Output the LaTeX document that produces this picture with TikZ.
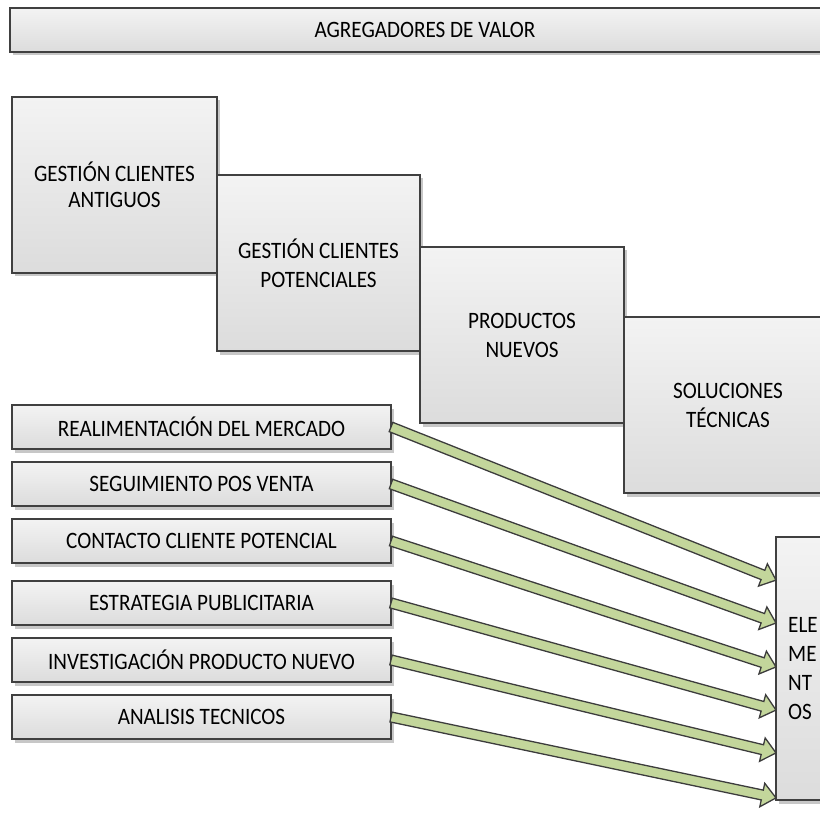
\documentclass[tikz,border=0pt]{standalone}
\usepackage{fontspec}
\setmainfont{Carlito}[FakeStretch=0.9]
\usetikzlibrary{calc,shadows}

\definecolor{boxline}{HTML}{404040}
\definecolor{boxtop}{HTML}{F3F3F3}
\definecolor{boxbot}{HTML}{DCDCDC}
\definecolor{arrowfill}{HTML}{C3D69B}
\definecolor{arrowline}{HTML}{3C3C3C}

% block arrow from #1 to #2: straight shaft, triangular head
\newcommand\feedarrow[2]{%
  \filldraw[flow] let \p1=(#1), \p2=(#2),
      \n1={atan2((\y2)-(\y1),(\x2)-(\x1))},
      \n2={veclen((\x2)-(\x1),(\y2)-(\y1))} in
    ($(\p1)+({\n1+90}:5pt)$)
    -- ($(\p1)+({\n1}:{\n2-14pt})+({\n1+90}:5pt)$)
    -- ($(\p1)+({\n1}:{\n2-14pt})+({\n1+90}:12pt)$)
    -- (\p2)
    -- ($(\p1)+({\n1}:{\n2-14pt})+({\n1-90}:12pt)$)
    -- ($(\p1)+({\n1}:{\n2-14pt})+({\n1-90}:5pt)$)
    -- ($(\p1)+({\n1-90}:5pt)$)
    -- cycle;}

\begin{document}
\begin{tikzpicture}[x=1pt,y=-1pt,
  panel/.style={rectangle, draw=boxline, line width=1.8pt,
    top color=boxtop, bottom color=boxbot,
    inner sep=2pt, outer sep=0pt, anchor=north west, align=center,
    font=\fontsize{23.5}{29}\selectfont,
    drop shadow={shadow xshift=3pt, shadow yshift=-3.5pt,
      opacity=0.22, fill=black}},
  bigpanel/.style={panel, minimum height=176pt},
  smallpanel/.style={panel, minimum width=379pt, minimum height=44pt},
  flow/.style={fill=arrowfill, draw=arrowline, line width=1.3pt,
    line join=miter},
]
\useasboundingbox (0,0) rectangle (820,813);
\clip (0,0) rectangle (820,813);

% heading bar
\node[panel, minimum width=830pt, minimum height=44pt] (head) at (10,8)
  {AGREGADORES DE VALOR};

% staircase of value blocks
\node[bigpanel, minimum width=205pt, font=\fontsize{23.5}{26}\selectfont]
  (b1) at (12,97) {GESTIÓN CLIENTES\\ANTIGUOS};
\node[bigpanel, minimum width=203pt] (b2) at (217,175)
  {GESTIÓN CLIENTES\\POTENCIALES};
\node[bigpanel, minimum width=204pt] (b3) at (420,247)
  {PRODUCTOS\\NUEVOS};
\node[bigpanel, minimum width=208pt] (b4) at (624,317)
  {SOLUCIONES\\TÉCNICAS};

% input activities
\node[smallpanel] (s1) at (12,405) {REALIMENTACIÓN DEL MERCADO};
\node[smallpanel] (s2) at (12,462) {SEGUIMIENTO POS VENTA};
\node[smallpanel] (s3) at (12,519) {CONTACTO CLIENTE POTENCIAL};
\node[smallpanel] (s4) at (12,581) {ESTRATEGIA PUBLICITARIA};
\node[smallpanel] (s5) at (12,638) {INVESTIGACIÓN PRODUCTO NUEVO};
\node[smallpanel] (s6) at (12,695) {ANALISIS TECNICOS};

% receiving block
\node[panel, minimum width=54pt, minimum height=263pt, align=left]
  (el) at (776,537) {ELE\\ME\\NT\\OS};

% arrow targets along the left side of the receiving block
\coordinate (t1) at ($(el.north west)!0.164!(el.south west)$);
\coordinate (t2) at ($(el.north west)!0.327!(el.south west)$);
\coordinate (t3) at ($(el.north west)!0.494!(el.south west)$);
\coordinate (t4) at ($(el.north west)!0.658!(el.south west)$);
\coordinate (t5) at ($(el.north west)!0.821!(el.south west)$);
\coordinate (t6) at ($(el.north west)!0.992!(el.south west)$);

\feedarrow{s1.east}{t1}
\feedarrow{s2.east}{t2}
\feedarrow{s3.east}{t3}
\feedarrow{s4.east}{t4}
\feedarrow{s5.east}{t5}
\feedarrow{s6.east}{t6}
\end{tikzpicture}
\end{document}
